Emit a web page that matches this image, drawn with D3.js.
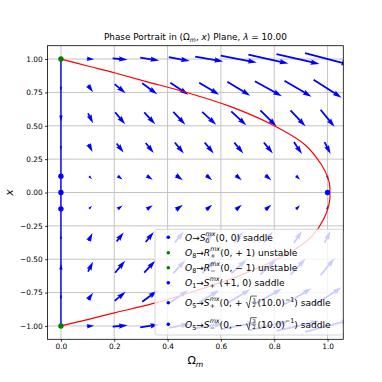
<!DOCTYPE html>
<html>
<head>
<meta charset="utf-8">
<script src="https://cdn.jsdelivr.net/npm/d3@7"></script>
<style>
  body { margin: 0; background: #fff; }
  text { font-family: "DejaVu Sans", sans-serif; fill: #000; white-space: pre; }
</style>
</head>
<body>
<script>
var w = 382;
var h = 382;

// quiver grid
var omegaGrid = [0, 0.111, 0.222, 0.333, 0.444, 0.556, 0.667, 0.778, 0.889, 1.0];
var xGrid = [-1.0, -0.778, -0.556, -0.333, -0.111, 0.111, 0.333, 0.556, 0.778, 1.0];

// field components (one row per xGrid value)
var uRows = [
  [0, 7.3, 15, 19, 21, 28, 36, 40, 43, 45],
  [0, 5, 11, 15, 18, 20, 23, 27, 27, 28],
  [0, 5, 10, 11, 12, 14, 15, 16, 15, 14],
  [0, 4, 7, 8, 9, 9, 9, 9, 8, 6],
  [0, 3, 5, 6, 7, 6, 6, 6, 4, 1],
  [0, 3, 5, 6, 7, 6, 6, 6, 4, 1],
  [0, 4, 7, 8, 9, 9, 9, 9, 8, 6],
  [0, 5, 10, 11, 12, 14, 15, 16, 15, 14],
  [0, 5, 11, 15, 18, 20, 23, 27, 27, 28],
  [0, 7.3, 15, 19, 21, 28, 36, 40, 43, 45]
];
var vRows = [
  [0, 0.5, 1.2, 2.7, 4, 5, 7, 9, 10, 12],
  [4, 7, 9, 11, 12, 12, 14, 15, 16, 18],
  [6, 10, 12, 12, 13, 13, 14, 16, 16, 17],
  [4, 8, 9, 10, 11, 11, 11, 11, 12, 12],
  [0, 3, 3.5, 4, 5, 5, 5, 5, 4, 4],
  [0, -3, -3.5, -4, -5, -5, -5, -5, -4, -4],
  [-4, -8, -9, -10, -11, -11, -11, -11, -12, -12],
  [-6, -10, -12, -12, -13, -13, -14, -16, -16, -17],
  [-4, -7, -9, -11, -12, -12, -14, -15, -16, -18],
  [0, -0.5, -1.2, -2.7, -4, -5, -7, -9, -10, -12]
];

// red trajectory
var redOmega = [0, 0.1, 0.2, 0.32, 0.47, 0.634, 0.80, 0.915, 0.977, 1.002, 1.009, 1.008,
  1.009, 1.004, 0.985, 0.946, 0.89, 0.81, 0.66, 0.50, 0.34, 0.2, 0.1, 0];
var redX = [1, 0.948, 0.897, 0.831, 0.75, 0.645, 0.5, 0.358, 0.208, 0.108, 0.033, 0,
  -0.033, -0.1, -0.2, -0.317, -0.41, -0.5, -0.63, -0.74, -0.835, -0.902, -0.952, -1];

// invariant line Omega_m = 0
var lineOmega = [0, 0];
var lineX = [-1, 1];

// critical points
var ptOmega = [0, 0, 0, 1, 0, 0];
var ptX = [0, 1, -1, 0, 0.1225, -0.1225];
var ptColor = ["blue", "green", "green", "blue", "blue", "blue"];

var xTicks = [0, 0.2, 0.4, 0.6, 0.8, 1.0];
var yTicks = [-1, -0.75, -0.5, -0.25, 0, 0.25, 0.5, 0.75, 1];

var svg = d3.select("body").append("svg")
  .attr("width", w)
  .attr("height", h);

var x0 = 47.5, x1 = 343.3, y0 = 45.7, y1 = 339.3;
var xScale = d3.scaleLinear().domain([-0.0504, 1.059]).range([x0, x1]);
var yScale = d3.scaleLinear().domain([-1.1, 1.1]).range([y1, y0]);
var lenScale = d3.scaleLinear().domain([0, 1]).range([0, 1]);

svg.append("clipPath").attr("id", "plotclip").append("rect")
  .attr("x", x0).attr("y", y0).attr("width", x1 - x0).attr("height", y1 - y0);

// grid
var grid = svg.append("g");
grid.selectAll(".gx").data(xTicks).enter().append("line")
  .attr("x1", d => xScale(d)).attr("x2", d => xScale(d))
  .attr("y1", y0).attr("y2", y1)
  .attr("stroke", "#c4c4c4").attr("stroke-width", 1);
grid.selectAll(".gy").data(yTicks).enter().append("line")
  .attr("y1", d => yScale(d)).attr("y2", d => yScale(d))
  .attr("x1", x0).attr("x2", x1)
  .attr("stroke", "#c4c4c4").attr("stroke-width", 1);

// quiver arrows, mid pivot, matplotlib-like shape
var plot = svg.append("g").attr("clip-path", "url(#plotclip)");

var arrows = [];
xGrid.forEach(function (xv, j) {
  omegaGrid.forEach(function (ov, i) {
    arrows.push({ o: ov, x: xv, u: uRows[j][i], v: vRows[j][i] });
  });
});

function arrowPath(L) {
  var sw = 1.78, hl = 5 * sw, hal = 4.5 * sw, hh = 1.5 * sw, s = 1;
  if (L < hl) s = L / hl;
  sw *= s; hl *= s; hal *= s; hh *= s;
  var a = -L / 2;
  var pts = [[a, -sw / 2], [a + L - hal, -sw / 2], [a + L - hl, -hh], [a + L, 0],
    [a + L - hl, hh], [a + L - hal, sw / 2], [a, sw / 2]];
  return "M" + pts.map(p => p.join(",")).join("L") + "Z";
}

plot.selectAll(".arrow").data(arrows.filter(d => d.u !== 0 || d.v !== 0)).enter().append("path")
  .attr("d", d => arrowPath(lenScale(Math.hypot(d.u, d.v))))
  .attr("transform", d => "translate(" + [xScale(d.o), yScale(d.x)] + ") rotate(" +
    (-Math.atan2(d.v, d.u) * 180 / Math.PI) + ")")
  .attr("fill", "blue");

// invariant line
plot.append("path")
  .datum(d3.zip(lineOmega, lineX))
  .attr("d", d3.line().x(d => xScale(d[0])).y(d => yScale(d[1])))
  .attr("fill", "none").attr("stroke", "blue").attr("stroke-width", 1.4);

// red trajectory
plot.append("path")
  .datum(d3.zip(redOmega, redX))
  .attr("d", d3.line().x(d => xScale(d[0])).y(d => yScale(d[1])).curve(d3.curveCatmullRom))
  .attr("fill", "none").attr("stroke", "red").attr("stroke-width", 1.2);

// critical points
svg.selectAll(".pt").data(d3.range(ptOmega.length)).enter().append("circle")
  .attr("cx", i => xScale(ptOmega[i])).attr("cy", i => yScale(ptX[i]))
  .attr("r", 2.7).attr("fill", i => ptColor[i]);

// frame
svg.append("rect")
  .attr("x", x0).attr("y", y0).attr("width", x1 - x0).attr("height", y1 - y0)
  .attr("fill", "none").attr("stroke", "#000").attr("stroke-width", 0.8);

// axes
var xAxis = d3.axisBottom(xScale).tickValues(xTicks).tickFormat(d3.format(".1f")).tickSize(2.4).tickPadding(2.4);
var yAxis = d3.axisLeft(yScale).tickValues(yTicks).tickFormat(d => d3.format(".2f")(d).replace("-", "\u2212")).tickSize(2.4).tickPadding(2.4);
var gx = svg.append("g").attr("transform", "translate(0," + y1 + ")").call(xAxis);
var gy = svg.append("g").attr("transform", "translate(" + x0 + ",0)").call(yAxis);
[gx, gy].forEach(function (g) {
  g.select(".domain").remove();
  g.selectAll("text").style("font-size", "7.4px").style("font-family", "DejaVu Sans");
  g.selectAll("line").attr("stroke", "#000").attr("stroke-width", 0.8);
});

// mini mathtext layout: pieces laid out left to right
function mathText(g, x, y, size, parts) {
  var cx = x, stackW = 0;
  parts.forEach(function (p) {
    if (p.sqrt) {
      var fs2 = size * 0.55;
      var num = g.append("text").attr("y", y - size * 0.47).style("font-size", fs2 + "px").text(p.num);
      var den = g.append("text").attr("y", y + size * 0.16).style("font-size", fs2 + "px").text(p.den);
      var fw = Math.max(num.node().getComputedTextLength(), den.node().getComputedTextLength());
      var fx = cx + size * 0.72;
      num.attr("x", fx + 0.8);
      den.attr("x", fx + 0.8);
      g.append("line").attr("x1", fx + 0.4).attr("x2", fx + fw + 1.2)
        .attr("y1", y - size * 0.35).attr("y2", y - size * 0.35)
        .attr("stroke", "#000").attr("stroke-width", 0.5);
      g.append("path")
        .attr("d", "M" + [cx + 0.5, y - size * 0.32] + "L" + [cx + size * 0.17, y - size * 0.4] +
          "L" + [cx + size * 0.38, y + size * 0.22] + "L" + [cx + size * 0.62, y - size * 1.08] +
          "L" + [fx + fw + 1.8, y - size * 1.08])
        .attr("fill", "none").attr("stroke", "#000").attr("stroke-width", 0.65);
      cx = fx + fw + 2.6;
      return;
    }
    var fs = size * (p.s || 1);
    var t = g.append("text").attr("x", cx).attr("y", y + (p.dy || 0) * size)
      .style("font-size", fs + "px")
      .style("font-style", p.i ? "italic" : "normal")
      .text(p.t);
    var tw = t.node().getComputedTextLength();
    if (p.stack) {
      stackW = tw;
    } else {
      cx += Math.max(tw, stackW);
      stackW = 0;
    }
  });
  return cx - x;
}

function sub(t, italic) { return { t: t, s: 0.7, dy: 0.25, i: italic }; }
function sup(t, italic) { return { t: t, s: 0.7, dy: -0.5, i: italic, stack: true }; }

// title
var title = svg.append("g");
var tw = mathText(title, 0, 40, 8.9, [
  { t: "Phase Portrait in (" }, { t: "\u03a9" }, sub("m", true), { t: ", " }, { t: "x", i: true },
  { t: ") Plane, " }, { t: "\u03bb", i: true }, { t: " = 10.00" }
]);
title.attr("transform", "translate(" + (195.4 - tw / 2) + ",0)");

// axis labels
var xl = svg.append("g");
var xlw = mathText(xl, 0, 364, 11, [{ t: "\u03a9" }, sub("m", true)]);
xl.attr("transform", "translate(" + (195.4 - xlw / 2) + ",0)");
svg.append("text").attr("transform", "translate(13,192.6) rotate(-90)")
  .attr("text-anchor", "middle").style("font-size", "11px").style("font-style", "italic").text("x");

// legend
var legend = svg.append("g");
legend.append("rect")
  .attr("x", 155).attr("y", 229.3).attr("width", 187.7).attr("height", 105.7)
  .attr("rx", 2).attr("fill", "rgba(255,255,255,0.8)").attr("stroke", "#ccc").attr("stroke-width", 0.8);

var legendY = [237.3, 252.7, 267.7, 282.7, 302.7, 324.3];
var legendParts = [
  [{ t: "O", i: true }, { t: "\u2192" }, { t: "S", i: true }, sup("mx", true), sub("0"), { t: "(0, 0) saddle" }],
  [{ t: "O", i: true }, sub("8"), { t: "\u2192" }, { t: "R", i: true }, sup("mx", true), sub("+"), { t: "(0, + 1) unstable" }],
  [{ t: "O", i: true }, sub("8"), { t: "\u2192" }, { t: "R", i: true }, sup("mx", true), sub("\u2212"), { t: "(0, \u2212 1) unstable" }],
  [{ t: "O", i: true }, sub("1"), { t: "\u2192" }, { t: "S", i: true }, sup("mx", true), sub("+"), { t: "(+1, 0) saddle" }],
  [{ t: "O", i: true }, sub("5"), { t: "\u2192" }, { t: "S", i: true }, sup("mx", true), sub("+"), { t: "(0, + " },
    { sqrt: true, num: "3", den: "2" }, { t: "(10.0)" }, { t: "\u22121", s: 0.7, dy: -0.45 }, { t: ") saddle" }],
  [{ t: "O", i: true }, sub("5"), { t: "\u2192" }, { t: "S", i: true }, sup("mx", true), sub("\u2212"), { t: "(0, \u2212 " },
    { sqrt: true, num: "3", den: "2" }, { t: "(10.0)" }, { t: "\u22121", s: 0.7, dy: -0.45 }, { t: ") saddle" }]
];
var legendColor = ["blue", "green", "green", "blue", "blue", "blue"];

legendY.forEach(function (ly, k) {
  legend.append("circle").attr("cx", 168.3).attr("cy", ly).attr("r", 1.8).attr("fill", legendColor[k]);
  mathText(legend, 185, ly + 3.2, 9.1, legendParts[k]);
});
</script>
</body>
</html>
